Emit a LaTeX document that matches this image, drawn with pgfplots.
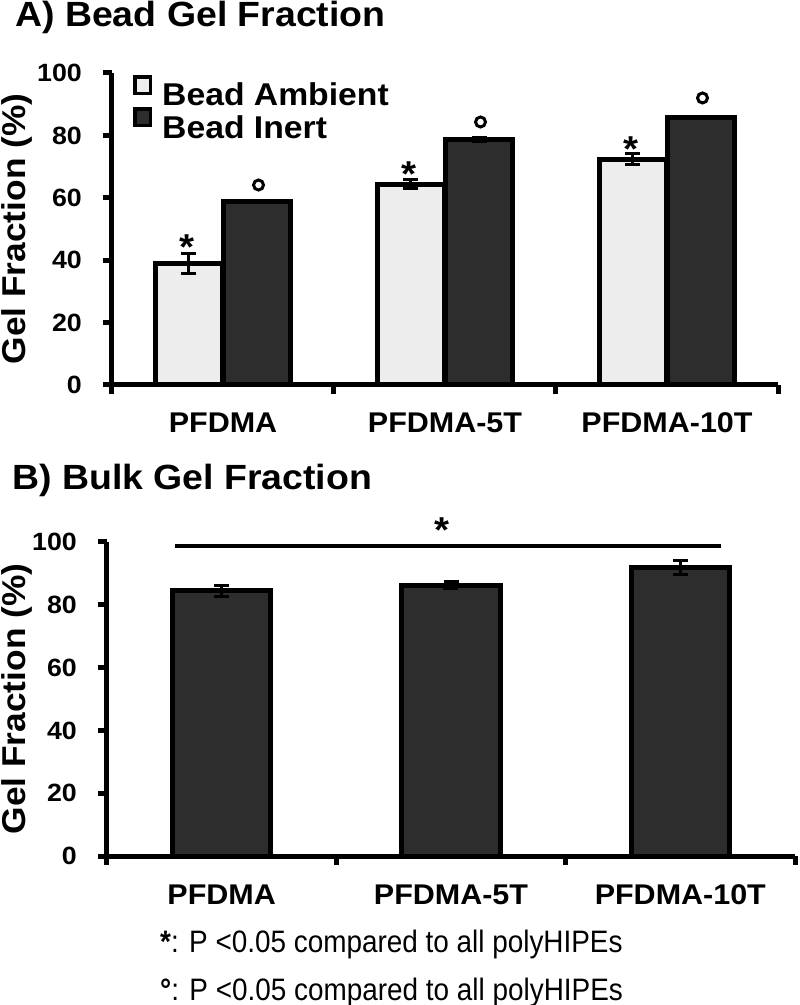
\documentclass[border=0pt]{standalone}
\usepackage{fontspec}
\setmainfont{Liberation Sans}
\newfontfamily\bfs{Liberation Sans}[FakeStretch=1.07]
\newfontfamily\nfs{Liberation Sans}[FakeStretch=0.9]
\newcommand\bold[1]{\bfs\bfseries\fontsize{#1pt}{#1pt}\selectfont}
\usepackage{pgfplots}
\pgfplotsset{compat=1.18}
\usepackage{pgfplotstable}
\definecolor{amb}{HTML}{EDEDED}
\definecolor{inr}{HTML}{2D2D2D}

\pgfplotstableread{
x y e
0 39.0 3.2
1 64.4 1.5
2 72.4 1.7
}\ambient
\pgfplotstableread{
x y e
0 58.8 0.4
1 78.6 0.6
2 85.6 0.2
}\inert
\pgfplotstableread{
x y e
0 84.4 1.7
1 86.3 1.0
2 92.0 2.2
}\bulk

\pgfplotsset{
 common/.style={scale only axis, anchor=south west,
  xmin=-0.5, xmax=2.5, ymin=0, ymax=100,
  axis x line*=bottom, axis y line*=left,
  axis line style={line width=5pt, black},
  xtick={-0.5,0.5,1.5,2.5}, x tick label as interval,
  xticklabels={PFDMA,PFDMA-5T,PFDMA-10T},
  ytick={0,20,40,60,80,100}, minor tick num=0,
  tick align=outside, major tick length=9pt,
  tick style={black, line width=5pt},
  /pgf/number format/assume math mode=true,
  yticklabel style={font=\bold{25}, inner sep=0pt, anchor=east, xshift=-21pt},
  xticklabel style={font=\bold{28.5}, inner sep=0pt, anchor=base, yshift=-39pt},
  clip=false,
  ylabel={Gel Fraction (\%)},
 },
 sqleg/.style={legend image code/.code={\draw[##1, line width=3.5pt] (1.75pt,1.75pt) rectangle (17.25pt,18.25pt);}},
 ebars/.style={error bars/.cd, y dir=both, y explicit,
  error bar style={line width=3pt, black},
  error mark options={rotate=90, mark size=7.5pt, line width=3pt, black}},
}

\begin{document}
\begin{tikzpicture}[x=1pt,y=1pt]
\useasboundingbox (0,0) rectangle (800,1005);

\node[anchor=base west, inner sep=0pt, font=\bold{35}] at (15,978) {A) Bead Gel Fraction};
\node[anchor=base west, inner sep=0pt, font=\bold{35}] at (12,515) {B) Bulk Gel Fraction};

\begin{axis}[common, at={(112pt,620pt)}, width=666pt, height=312pt,
  ylabel style={font=\bold{33}, inner sep=0pt, anchor=center, at={(axis description cs:-0.1426,0.5)}},
  legend style={at={(rel axis cs:0,1)}, anchor=north west, xshift=21pt, yshift=-2pt,
    draw=none, fill=none, inner sep=0pt, row sep=0pt, column sep=10pt,
    nodes={inner sep=0pt}, font=\bold{31.5}},
  legend cell align=left]
\addplot[ybar, bar width=67pt, bar shift=0pt, fill=amb, draw=black, line width=5pt, sqleg, ebars]
  table[x expr=\thisrow{x}-0.155, y=y, y error=e] {\ambient};
\addlegendentry{Bead Ambient}
\addplot[ybar, bar width=67pt, bar shift=0pt, fill=inr, draw=black, line width=5pt, sqleg, ebars]
  table[x expr=\thisrow{x}+0.155, y=y, y error=e] {\inert};
\addlegendentry{Bead Inert}
\addplot[draw=none, mark=none, forget plot, nodes near coords={*},
  every node near coord/.append style={font=\bold{36}, anchor=center, inner sep=0pt, text=black}]
  coordinates {(-0.16,44.3) (0.84,67.7) (1.84,75.7)};
\addplot[only marks, mark=o, mark size=5pt, mark options={line width=3pt, draw=black}, forget plot]
  coordinates {(0.16,64.1) (1.16,84.3) (2.16,92.0)};
\end{axis}

\begin{axis}[common, at={(107pt,149pt)}, width=688pt, height=314pt,
  ylabel style={font=\bold{33}, inner sep=0pt, anchor=center, at={(axis description cs:-0.1308,0.5)}}]
\addplot[ybar, bar width=98pt, bar shift=0pt, fill=inr, draw=black, line width=5pt, ebars]
  table[x=x, y=y, y error=e] {\bulk};
\addplot[black, line width=4.5pt, forget plot] coordinates {(-0.204,98.7) (2.178,98.7)};
\addplot[draw=none, mark=none, forget plot, nodes near coords={*},
  every node near coord/.append style={font=\bold{36}, anchor=center, inner sep=0pt, text=black}]
  coordinates {(0.961,103.8)};
\end{axis}

\node[anchor=base west, inner sep=0pt, font=\nfs\fontsize{31pt}{31pt}\selectfont] at (160,52) {\textbf{*}: P <0.05 compared to all polyHIPEs};
\node[anchor=base west, inner sep=0pt, font=\nfs\fontsize{31pt}{31pt}\selectfont] at (160,5) {\textbf{°}: P <0.05 compared to all polyHIPEs};
\end{tikzpicture}
\end{document}
